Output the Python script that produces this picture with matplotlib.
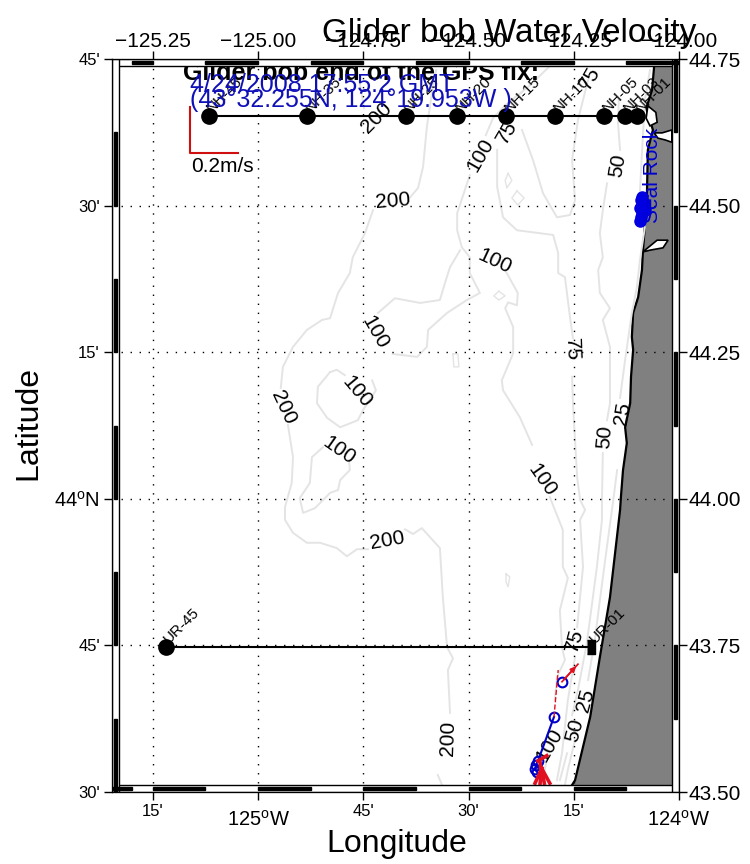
import numpy as np
import matplotlib
matplotlib.use('Agg')
import matplotlib.pyplot as plt
from matplotlib.patches import Polygon, Rectangle

plt.rcParams['font.family'] = ['Liberation Sans', 'DejaVu Sans']
plt.rcParams['mathtext.fontset'] = 'custom'
plt.rcParams['mathtext.rm'] = 'Liberation Sans'

nan = np.nan

# Stations
nh_names = ['NH-45', 'NH-35', 'NH-25', 'NH-20', 'NH-15', 'NH-10', 'NH-05', 'NH-03', 'NH-01']
nh_lon = [-125.117, -124.884, -124.649, -124.527, -124.411, -124.295, -124.178, -124.128, -124.100]
nh_lat = [44.652] * 9
ur_names = ['UR-45', 'UR-01']
ur_lon = [-125.219, -124.209]
ur_lat = [43.747, 43.747]

# Isobaths (lon, lat), nan where a label interrupts the line
c200_lon = [-124.577, -124.587, -124.599, -124.608, -124.620, -124.639, nan, -124.727, -124.746, -124.775, -124.782,
            -124.810, -124.829, -124.848, -124.884, -124.917, -124.941, -124.946, nan, -124.929, -124.917, -124.920,
            -124.936, -124.936, -124.917, -124.884, -124.853, -124.813, -124.789, -124.765, -124.739, nan, -124.651,
            -124.632, -124.611, -124.568, -124.561, -124.551, -124.537, -124.549, -124.544, nan, -124.573, -124.563]
c200_lat = [44.731, 44.692, 44.634, 44.566, 44.530, 44.514, nan, 44.492, 44.453, 44.412, 44.385,
            44.351, 44.308, 44.305, 44.288, 44.259, 44.225, 44.189, nan, 44.126, 44.071, 44.027,
            43.986, 43.964, 43.942, 43.925, 43.925, 43.916, 43.902, 43.914, 43.914, nan, 43.948,
            43.940, 43.950, 43.916, 43.832, 43.747, 43.728, 43.708, 43.635, nan, 43.529, 43.512]
c200b_lon = [-124.763, -124.748]
c200b_lat = [44.728, 44.666]

c100_lon = [-124.307, -124.354, -124.413, -124.442, -124.459, nan, -124.497, -124.527, -124.527, -124.516, -124.497,
            -124.497, -124.473, -124.504, -124.551, -124.596, -124.599, -124.622, -124.680, nan, -124.715, -124.675,
            -124.615, -124.568, -124.556, -124.544, -124.520]
c100_lat = [44.738, 44.705, 44.671, 44.649, 44.620, nan, 44.552, 44.487, 44.458, 44.429, 44.412,
            44.385, 44.351, 44.339, 44.317, 44.288, 44.259, 44.242, 44.247, nan, 44.317, 44.342,
            44.334, 44.339, 44.368, 44.395, 44.424]
c100b_lon = [-124.413, -124.383, -124.385, -124.406, -124.413, -124.394, -124.394, -124.421, -124.418, -124.378,
             -124.349, nan, -124.307, -124.276, -124.276, -124.264, -124.283, -124.278, -124.271, -124.290, -124.295,
             nan, -124.314, -124.326]
c100b_lat = [44.390, 44.351, 44.330, 44.335, 44.325, 44.293, 44.248, 44.202, 44.185, 44.139,
             44.092, nan, 44.003, 43.947, 43.884, 43.865, 43.810, 43.747, 43.725, 43.696, 43.657,
             nan, 43.555, 43.515]
c100c_lon = [-124.829, -124.813, -124.794, nan, -124.729, -124.720, -124.751, -124.763, -124.805, -124.836, -124.860,
             -124.858, -124.829]
c100c_lat = [44.216, 44.220, 44.211, nan, 44.202, 44.185, 44.151, 44.134, 44.122, 44.138, 44.163,
             44.191, 44.216]
c100d_lon = [-124.846, -124.872, -124.877, -124.901, -124.893, -124.865, -124.829, -124.810, -124.805, -124.782, -124.784]
c100d_lat = [44.088, 44.071, 44.027, 44.001, 43.976, 43.984, 44.010, 44.015, 44.032, 44.049, 44.066]

c75_lon = [-124.216, -124.240, -124.254, -124.247, -124.259, -124.290, -124.323, -124.347, -124.373]
c75_lat = [44.714, 44.646, 44.578, 44.509, 44.484, 44.480, 44.521, 44.578, 44.629]
c75b_lon = [-124.432, -124.432, -124.418, -124.385, -124.299, -124.287, -124.287, -124.271, -124.259, -124.252, nan,
            -124.254, -124.252, -124.242, -124.235, -124.223, -124.235, -124.228, -124.242, nan, -124.247, -124.264,
            -124.278, -124.290]
c75b_lat = [44.595, 44.532, 44.480, 44.458, 44.450, 44.419, 44.385, 44.378, 44.310, 44.274, nan,
            44.208, 44.163, 44.037, 43.998, 43.981, 43.964, 43.884, 43.781, nan, 43.730, 43.657,
            43.566, 43.520]

c50_lon = [-124.143, -124.145, -124.140, nan, -124.171, -124.181, -124.188, -124.181, -124.192, -124.188, -124.164,
           -124.181, -124.164, -124.164, -124.171, nan, -124.181, -124.183, -124.183, -124.195, -124.219, -124.240,
           -124.254, nan, -124.266, -124.283]
c50_lat = [44.680, 44.641, 44.595, nan, 44.538, 44.492, 44.453, 44.412, 44.390, 44.351, 44.325,
           44.305, 44.259, 44.163, 44.134, nan, 44.078, 43.998, 43.964, 43.884, 43.754, 43.674,
           43.631, nan, 43.566, 43.520]

c25_lon = [-124.069, -124.081, -124.088, -124.093, -124.081, -124.093, -124.100, -124.112, -124.128, -124.140, nan,
           -124.147, -124.157, -124.169, -124.188, -124.200, -124.216, nan, -124.247, -124.264, -124.271]
c25_lat = [44.731, 44.680, 44.590, 44.521, 44.463, 44.407, 44.361, 44.317, 44.237, 44.172, nan,
           44.049, 43.993, 43.930, 43.827, 43.759, 43.691, nan, 43.589, 43.538, 43.512]

# Small closed soundings
isle_lon = [[-124.406, -124.397, -124.409, -124.413, -124.406],
            [-124.385, -124.368, -124.383, -124.397, -124.385],
            [-124.537, -124.525, -124.523, -124.535, -124.537],
            [-124.428, -124.413, -124.428, -124.440, -124.428],
            [-124.411, -124.402, -124.406, -124.411, -124.411]]
isle_lat = [[44.555, 44.543, 44.530, 44.543, 44.555],
            [44.525, 44.513, 44.501, 44.513, 44.525],
            [44.247, 44.247, 44.225, 44.225, 44.247],
            [44.354, 44.346, 44.339, 44.346, 44.354],
            [43.872, 43.867, 43.850, 43.858, 43.872]]

# Contour labels
clab_text = ['200', '200', '100', '75', '75', '50', '100', '100', '100', '200', '100', '200',
             '75', '50', '25', '100', '200', '75', '25', '50', '100']
clab_lon = [-124.718, -124.680, -124.473, -124.409, -124.211, -124.145, -124.437, -124.722, -124.765, -124.941, -124.808,
            -124.694, -124.254, -124.176, -124.135, -124.326, -124.549, -124.247, -124.221, -124.247, -124.307]
clab_lat = [44.649, 44.508, 44.586, 44.625, 44.717, 44.569, 44.404, 44.284, 44.182, 44.155, 44.083,
            43.928, 44.254, 44.105, 44.146, 44.032, 43.592, 43.759, 43.657, 43.606, 43.580]
clab_rot = [45, 5, 60, 60, 60, 80, -25, -60, -50, -65, -35, 10, -88, 85, 80, -55, 88, 75, 75, 75, 60]

# Coastline, north to south
coast_lon = [-124.059, -124.064, -124.078, -124.062, -124.074, -124.076, -124.081, -124.086, -124.088, -124.097,
             -124.109, -124.112, -124.109, -124.114, -124.116, -124.128, -124.124, -124.133, -124.138, -124.140,
             -124.164, -124.188, -124.211, -124.247, -124.254]
coast_lat = [44.738, 44.697, 44.666, 44.629, 44.595, 44.526, 44.467, 44.419, 44.390, 44.344,
             44.317, 44.276, 44.254, 44.208, 44.163, 44.122, 44.095, 44.049, 44.003, 43.981,
             43.832, 43.730, 43.628, 43.520, 43.512]
bay_lon = [[-124.074, -124.055, -124.052, -124.069, -124.078],
           [-124.059, -124.040, -124.017, -124.017, -124.033, -124.050],
           [-124.086, -124.052, -124.026, -124.038, -124.069]]
bay_lat = [[44.670, 44.659, 44.642, 44.636, 44.649],
           [44.624, 44.624, 44.629, 44.608, 44.612, 44.615],
           [44.421, 44.441, 44.441, 44.428, 44.424]]

# Glider fixes
fix_lon = [-124.088, -124.090, -124.086, -124.093, -124.088, -124.090, -124.093, -124.083, -124.081]
fix_lat = [44.514, 44.509, 44.501, 44.496, 44.487, 44.480, 44.474, 44.504, 44.492]
track_lon = [-124.278, -124.297, -124.335, -124.340, -124.342, -124.337]
track_lat = [43.688, 43.628, 43.553, 43.546, 43.539, 43.534]

# Velocity vectors
vel_lon0 = [-124.278, -124.297, -124.326, -124.326, -124.326, -124.326, -124.335, -124.330]
vel_lat0 = [43.688, 43.628, 43.540, 43.540, 43.540, 43.540, 43.553, 43.550]
vel_lon1 = [-124.240, -124.287, -124.342, -124.330, -124.320, -124.307, -124.314, -124.326]
vel_lat1 = [43.718, 43.708, 43.515, 43.515, 43.515, 43.515, 43.562, 43.525]

lon_ticks = [-125.25, -125.0, -124.75, -124.5, -124.25, -124.0]
lat_ticks = [43.5, 43.75, 44.0, 44.25, 44.5, 44.75]
bottom_labels = ["15'", '125$^{\\mathrm{o}}$W', "45'", "30'", "15'", '124$^{\\mathrm{o}}$W']
left_labels = ["30'", "45'", '44$^{\\mathrm{o}}$N', "15'", "30'", "45'"]

fig = plt.figure(figsize=(7.5, 8.64), dpi=100)
ax = fig.add_axes([112 / 750, 1 - 792 / 864, 567 / 750, 733 / 864])
xlim = (-125.347, -124.0)
ylim = (43.5, 44.75)
ax.set_xlim(xlim)
ax.set_ylim(ylim)

# Land
land = Polygon(list(zip(coast_lon, coast_lat)) + [(-124.0, 43.5), (-124.0, 44.75)],
               closed=True, facecolor='#808080', edgecolor='none', zorder=1)
ax.add_patch(land)
ax.plot(coast_lon, coast_lat, color='k', lw=1.6, zorder=1.2)
for lo, la in zip(bay_lon, bay_lat):
    ax.add_patch(Polygon(list(zip(lo, la)), closed=True, facecolor='white', edgecolor='k', lw=1.2, zorder=1.3))

# Isobaths
iso_color = '#e4e4e4'
for lo, la in [(c200_lon, c200_lat), (c200b_lon, c200b_lat), (c100_lon, c100_lat), (c100b_lon, c100b_lat),
               (c100c_lon, c100c_lat), (c100d_lon, c100d_lat), (c75_lon, c75_lat), (c75b_lon, c75b_lat),
               (c50_lon, c50_lat), (c25_lon, c25_lat)]:
    ax.plot(lo, la, color=iso_color, lw=1.4, zorder=1.5)
for lo, la in zip(isle_lon, isle_lat):
    ax.plot(lo, la, color=iso_color, lw=1.0, zorder=1.5)
for t, lo, la, r in zip(clab_text, clab_lon, clab_lat, clab_rot):
    ax.text(lo, la, t, fontsize=15, rotation=r, ha='center', va='center', rotation_mode='anchor', zorder=3)

# Grid
ax.set_xticks(lon_ticks)
ax.set_xticklabels(bottom_labels)
ax.set_yticks(lat_ticks)
ax.set_yticklabels(left_labels)
ax.set_axisbelow(False)
ax.grid(True, color='k', lw=1.0, linestyle=(0, (1, 5.5)))
ax.tick_params(length=5.8, width=1, labelsize=12, pad=3)
for tick, txt in zip(ax.xaxis.get_major_ticks(), bottom_labels):
    if 'mathrm' in txt:
        tick.label1.set_fontsize(14.5)
        tick.set_pad(7)
for tick, txt in zip(ax.yaxis.get_major_ticks(), left_labels):
    if 'mathrm' in txt:
        tick.label1.set_fontsize(14.5)

# Station lines
ax.plot(nh_lon, nh_lat, '-o', color='k', lw=1.5, ms=11, zorder=4)
ax.plot(ur_lon, ur_lat, color='k', lw=1.5, zorder=4)
ax.plot(ur_lon[0], ur_lat[0], 'o', color='k', ms=11, zorder=4)
ax.plot(ur_lon[1], ur_lat[1], color='k', ms=10, zorder=4, linestyle='none',
        marker=[(-0.3, -0.5), (0.3, -0.5), (0.3, 0.5), (-0.3, 0.5)])
for names, los, las in [(nh_names, nh_lon, nh_lat), (ur_names, ur_lon, ur_lat)]:
    for n, lo, la in zip(names, los, las):
        ax.annotate(n, (lo, la), xytext=(4, 1), textcoords='offset points', fontsize=11, rotation=45,
                    ha='left', va='bottom', rotation_mode='anchor', zorder=5)

# Glider
ax.plot(fix_lon, fix_lat, 'o', color='#0000e0', ms=8, zorder=5)
ax.text(-124.064, 44.552, 'Seal Rock', color='#0000d0', fontsize=15, rotation=90, ha='center', va='center', zorder=5)
ax.plot(track_lon[1:], track_lat[1:], color='#0000c8', lw=1.5, zorder=5)
ax.plot(track_lon, track_lat, 'o', mfc='none', mec='#0000c8', mew=1.5, ms=7, zorder=5)
for i in range(len(vel_lon0)):
    ax.plot([vel_lon0[i], vel_lon1[i]], [vel_lat0[i], vel_lat1[i]], color='#e01020',
            lw=1.0 if i == 1 else (1.2 if i == 0 else 2.6), linestyle='--' if i == 1 else '-', zorder=6)
ax.annotate('', (vel_lon1[0], vel_lat1[0]), (vel_lon0[0], vel_lat0[0]),
            arrowprops=dict(arrowstyle='-|>', color='#e01020', lw=1.2, mutation_scale=8), zorder=6)

# Scale arrows
ax.plot([-125.162, -125.162, -125.048], [44.668, 44.589, 44.589], color='#d01010', lw=1.5, zorder=6)
ax.text(-125.160, 44.567, '0.2m/s', fontsize=15, ha='left', va='center', zorder=6)

# Fix text
ax.text(-125.178, 44.714, 'Glider bob end of the GPS fix:', fontsize=18, fontweight='bold', va='baseline', zorder=3)
ax.text(-125.162, 44.694, '4/24/2008 17:55:2 GMT', fontsize=18, color='#1010b8', va='baseline', zorder=5)
ax.text(-125.162, 44.668, '(43\u00b032.255N, 124\u00b019.953W )', fontsize=18, color='#1010b8', va='baseline', zorder=5)

# Fancy frame
bx, by = 0.0166, 0.012
for x0, y0, w, h in [(xlim[0], ylim[0], xlim[1] - xlim[0], by), (xlim[0], ylim[1] - by, xlim[1] - xlim[0], by),
                     (xlim[0], ylim[0], bx, ylim[1] - ylim[0]), (xlim[1] - bx, ylim[0], bx, ylim[1] - ylim[0])]:
    ax.add_patch(Rectangle((x0, y0), w, h, facecolor='white', edgecolor='k', lw=1, zorder=20))
seg_x, seg_y = 0.125, 0.125
tx, ty = 0.4 * bx, 0.4 * by
for k in range(5):
    ax.add_patch(Rectangle((-125.25 + 0.25 * k, ylim[0] + 0.3 * by), seg_x, ty, color='k', zorder=21))
    ax.add_patch(Rectangle((-125.125 + 0.25 * k, ylim[1] - 0.7 * by), seg_x, ty, color='k', zorder=21))
    ax.add_patch(Rectangle((xlim[0] + 0.3 * bx, 43.5 + 0.25 * k), tx, seg_y, color='k', zorder=21))
    ax.add_patch(Rectangle((xlim[1] - 0.7 * bx, 43.625 + 0.25 * k), tx, seg_y, color='k', zorder=21))
ax.add_patch(Rectangle((xlim[0], ylim[0] + 0.3 * by), 0.047, ty, color='k', zorder=21))
ax.add_patch(Rectangle((-125.30, ylim[1] - 0.7 * by), 0.05, ty, color='k', zorder=21))

# Top and right numeric axes
ax_top = ax.twiny()
ax_top.set_xlim(xlim)
ax_top.set_xticks(lon_ticks)
ax_top.set_xticklabels([f'{v:.2f}'.replace('-', '\u2212') for v in lon_ticks])
ax_top.tick_params(length=5.8, width=1, labelsize=15, pad=0)
ax_right = ax.twinx()
ax_right.set_ylim(ylim)
ax_right.set_yticks(lat_ticks)
ax_right.set_yticklabels([f'{v:.2f}' for v in lat_ticks])
ax_right.tick_params(length=5.8, width=1, labelsize=15, pad=1)

fig.text(509 / 750, 1 - 42 / 864, 'Glider bob Water Velocity', fontsize=24, ha='center', va='baseline')
fig.text(397 / 750, 1 - 852 / 864, 'Longitude', fontsize=23, ha='center', va='baseline')
fig.text(28 / 750, 1 - 423 / 864, 'Latitude', fontsize=23, rotation=90, ha='center', va='center')

fig.savefig('out.png', dpi=100)
